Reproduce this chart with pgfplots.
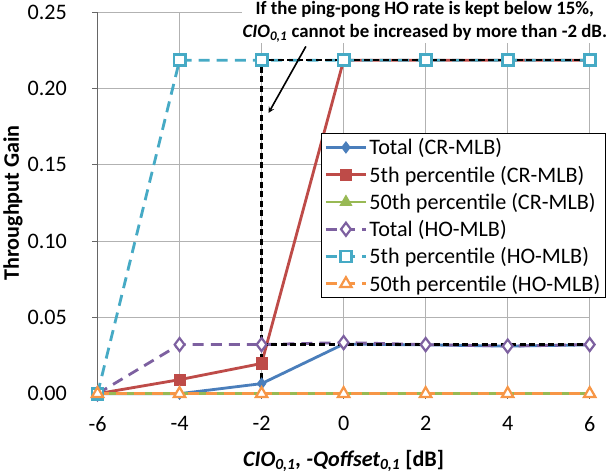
\documentclass[border=0pt]{standalone}
\usepackage{fontspec}
\setmainfont{Carlito}
\usepackage{pgfplots}
\pgfplotsset{compat=1.18}
\definecolor{cblue}{HTML}{4A7EBB}
\definecolor{cred}{HTML}{BE4B48}
\definecolor{cgreen}{HTML}{98B954}
\definecolor{cpurple}{HTML}{7D60A0}
\definecolor{caqua}{HTML}{46AAC5}
\definecolor{corange}{HTML}{F79646}
\begin{document}
\begin{tikzpicture}
\begin{axis}[
  scale only axis, width=489pt, height=379pt,
  xmin=-6, xmax=6, ymin=0, ymax=0.25,
  xtick={-6,-4,-2,0,2,4,6},
  ytick={0,0.05,0.10,0.15,0.20,0.25},
  grid=major, grid style={draw=gray!60, line width=0.8pt},
  axis x line*=bottom, axis y line*=left,
  axis line style={draw=gray!80!black, line width=0.9pt},
  tick align=outside, major tick length=5pt,
  tick style={draw=gray!80!black, line width=0.8pt},
  tick label style={font=\fontsize{22}{26}\selectfont},
  /pgf/number format/assume math mode=true,
  yticklabel style={/pgf/number format/fixed, /pgf/number format/fixed zerofill, /pgf/number format/precision=2, xshift=-22pt},
  xticklabel style={yshift=-14pt},
  clip=false,
  xlabel={\fontsize{22}{26}\selectfont\bfseries\itshape CIO\textsubscript{0,1}, -Qoffset\textsubscript{0,1} \upshape[dB]},
  ylabel={\fontsize{22}{26}\selectfont\bfseries Throughput Gain},
  xlabel style={yshift=-12pt},
  ylabel style={yshift=-2pt},
  legend style={at={(rel axis cs:0.454,0.683)}, anchor=north west, draw=black, line width=0.8pt, fill=white,
    font=\fontsize{22}{26}\selectfont, row sep=5.5pt, inner xsep=3pt, inner ysep=3pt},
  legend cell align=left,
  legend image code/.code={\draw[mark repeat=2, mark phase=2] plot coordinates {(0pt,0pt)(20pt,0pt)(40pt,0pt)};},
  lw/.style={line width=2.8pt},
]
\addplot[cblue, lw, mark=diamond*, mark size=5.5pt, mark options={solid, fill=cblue, line width=1pt}] coordinates {(-6,0)(-4,0)(-2,0.0066)(0,0.0325)(2,0.0320)(4,0.0312)(6,0.0320)};
\addlegendentry{Total (CR-MLB)}
\addplot[cred, lw, mark=square*, mark size=5.5pt, mark options={solid, fill=cred, line width=1pt}] coordinates {(-6,0)(-4,0.0092)(-2,0.0198)(0,0.2185)(2,0.2185)(4,0.2185)(6,0.2185)};
\addlegendentry{5th percentile (CR-MLB)}
\addplot[cgreen, lw, mark=triangle*, mark size=6.5pt, mark options={solid, fill=cgreen, line width=1pt}] coordinates {(-6,0)(-4,0)(-2,0)(0,0)(2,0)(4,0)(6,0)};
\addlegendentry{50th percentile (CR-MLB)}
\addplot[cpurple, lw, dash pattern=on 11pt off 7pt, mark=diamond*, mark size=6.5pt, mark options={solid, fill=white, line width=2.2pt}] coordinates {(-6,0)(-4,0.0322)(-2,0.0322)(0,0.0335)(2,0.0322)(4,0.0312)(6,0.0322)};
\addlegendentry{Total (HO-MLB)}
\addplot[caqua, lw, dash pattern=on 11pt off 7pt, mark=square*, mark size=5.5pt, mark options={solid, fill=white, line width=2.8pt}] coordinates {(-6,0)(-4,0.2185)(-2,0.2185)(0,0.2185)(2,0.2185)(4,0.2185)(6,0.2185)};
\addlegendentry{5th percentile (HO-MLB)}
\addplot[corange, lw, dash pattern=on 11pt off 7pt, mark=triangle*, mark size=6.5pt, mark options={solid, fill=white, line width=2.2pt}] coordinates {(-6,0)(-4,0)(-2,0)(0,0)(2,0)(4,0)(6,0)};
\addlegendentry{50th percentile (HO-MLB)}
\addplot[black, line width=2.2pt, dash pattern=on 6pt off 3.5pt, forget plot] coordinates {(6,0.2185)(-2,0.2185)(-2,0)};
\addplot[black, line width=2.2pt, dash pattern=on 6pt off 3.5pt, forget plot] coordinates {(-2,0.0322)(6,0.0322)};
\node[fill=white, align=center, inner sep=1pt, font=\fontsize{18.7}{23}\selectfont\bfseries] at (rel axis cs:0.665,0.976)
  {If the ping-pong HO rate is kept below 15\%,\\ \itshape CIO\textsubscript{0,1}\upshape{} cannot be increased by more than -2 dB.};
\draw[-stealth, line width=1.6pt] (axis cs:-0.92,0.2276) -- (axis cs:-1.83,0.184);
\end{axis}
\end{tikzpicture}
\end{document}
